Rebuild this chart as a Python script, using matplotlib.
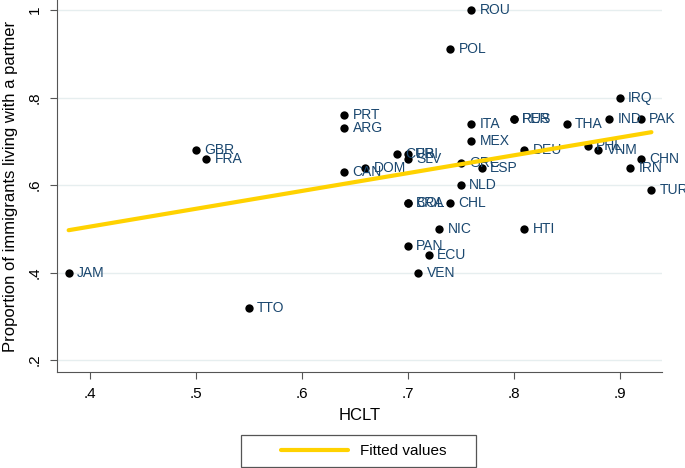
import numpy as np
import matplotlib
matplotlib.use("Agg")
import matplotlib.pyplot as plt
from matplotlib.lines import Line2D
from matplotlib.patches import Rectangle

plt.rcParams['font.family'] = ['Liberation Sans', 'DejaVu Sans']

# country, HCLT, share living with a partner
countries = ["JAM", "TTO", "GBR", "FRA", "PRT", "ARG", "CAN", "DOM", "CUB", "PRI",
             "SLV", "BRA", "COL", "CHL", "NIC", "PAN", "ECU", "VEN", "ROU", "POL",
             "ITA", "MEX", "GRC", "ESP", "NLD", "DEU", "HTI", "PER", "RUS", "THA",
             "PHL", "VNM", "IND", "IRQ", "PAK", "CHN", "IRN", "TUR"]
hclt = [0.38, 0.55, 0.50, 0.51, 0.64, 0.64, 0.64, 0.66, 0.69, 0.70,
        0.70, 0.70, 0.70, 0.74, 0.73, 0.70, 0.72, 0.71, 0.76, 0.74,
        0.76, 0.76, 0.75, 0.77, 0.75, 0.81, 0.81, 0.80, 0.80, 0.85,
        0.87, 0.88, 0.89, 0.90, 0.92, 0.92, 0.91, 0.93]
share = [0.40, 0.32, 0.68, 0.66, 0.76, 0.73, 0.63, 0.64, 0.67, 0.67,
         0.66, 0.56, 0.56, 0.56, 0.50, 0.46, 0.44, 0.40, 1.00, 0.91,
         0.74, 0.70, 0.65, 0.64, 0.60, 0.68, 0.50, 0.75, 0.75, 0.74,
         0.69, 0.68, 0.75, 0.80, 0.75, 0.66, 0.64, 0.59]

# fitted line endpoints
fit_x = [0.38, 0.93]
fit_y = [0.497, 0.721]

xticks = [0.4, 0.5, 0.6, 0.7, 0.8, 0.9]
xticklabels = [".4", ".5", ".6", ".7", ".8", ".9"]
yticks = [0.2, 0.4, 0.6, 0.8, 1.0]
yticklabels = [".2", ".4", ".6", ".8", "1"]

label_color = "#1a476f"
fit_color = "#ffd200"

fig = plt.figure(figsize=(6.85, 4.68), dpi=100)
ax = fig.add_axes([57 / 685, 1 - 372 / 468, (662 - 57) / 685, 372 / 468])

for y in yticks:
    ax.axhline(y, color="#e6eeef", lw=1.0, zorder=0)

ax.scatter(hclt, share, s=36, color="black", zorder=3, linewidths=0)
for c, x, y in zip(countries, hclt, share):
    ax.annotate(c, (x, y), xytext=(6, 0), textcoords="offset points",
                va="center", ha="left", fontsize=10, color=label_color, zorder=4,
                annotation_clip=False)

ax.plot(fit_x, fit_y, color=fit_color, lw=3, solid_capstyle="round", zorder=5)

ax.set_xlim(0.369, 0.94)
ax.set_ylim(0.173, 1.023)
ax.set_xticks(xticks)
ax.set_xticklabels(xticklabels, fontsize=11)
ax.set_yticks(yticks)
ax.set_yticklabels(yticklabels, fontsize=11, rotation=90, va="center")
ax.tick_params(direction="out", length=5, color="#555555", pad=6)
ax.spines["top"].set_visible(False)
ax.spines["right"].set_visible(False)
ax.spines["left"].set_color("#555555")
ax.spines["bottom"].set_color("#555555")
ax.set_xlabel("HCLT", fontsize=12, labelpad=5)
ax.set_ylabel("Proportion of immigrants living with a partner", fontsize=12, labelpad=7)

# legend box (Stata-style wide key area)
fig.patches.append(Rectangle((241 / 685, 1 - 467 / 468), (476 - 241) / 685, 32 / 468,
                             transform=fig.transFigure, facecolor="white",
                             edgecolor="#555555", lw=0.9))
handle = Line2D([], [], color=fit_color, lw=3, solid_capstyle="round")
fig.legend([handle], ["Fitted values"], loc="center left",
           bbox_to_anchor=(281 / 685, 1 - 451 / 468),
           fontsize=11, frameon=False, handlelength=4.4, handletextpad=0.8,
           borderpad=0, borderaxespad=0)

fig.savefig("out.png", dpi=100)
